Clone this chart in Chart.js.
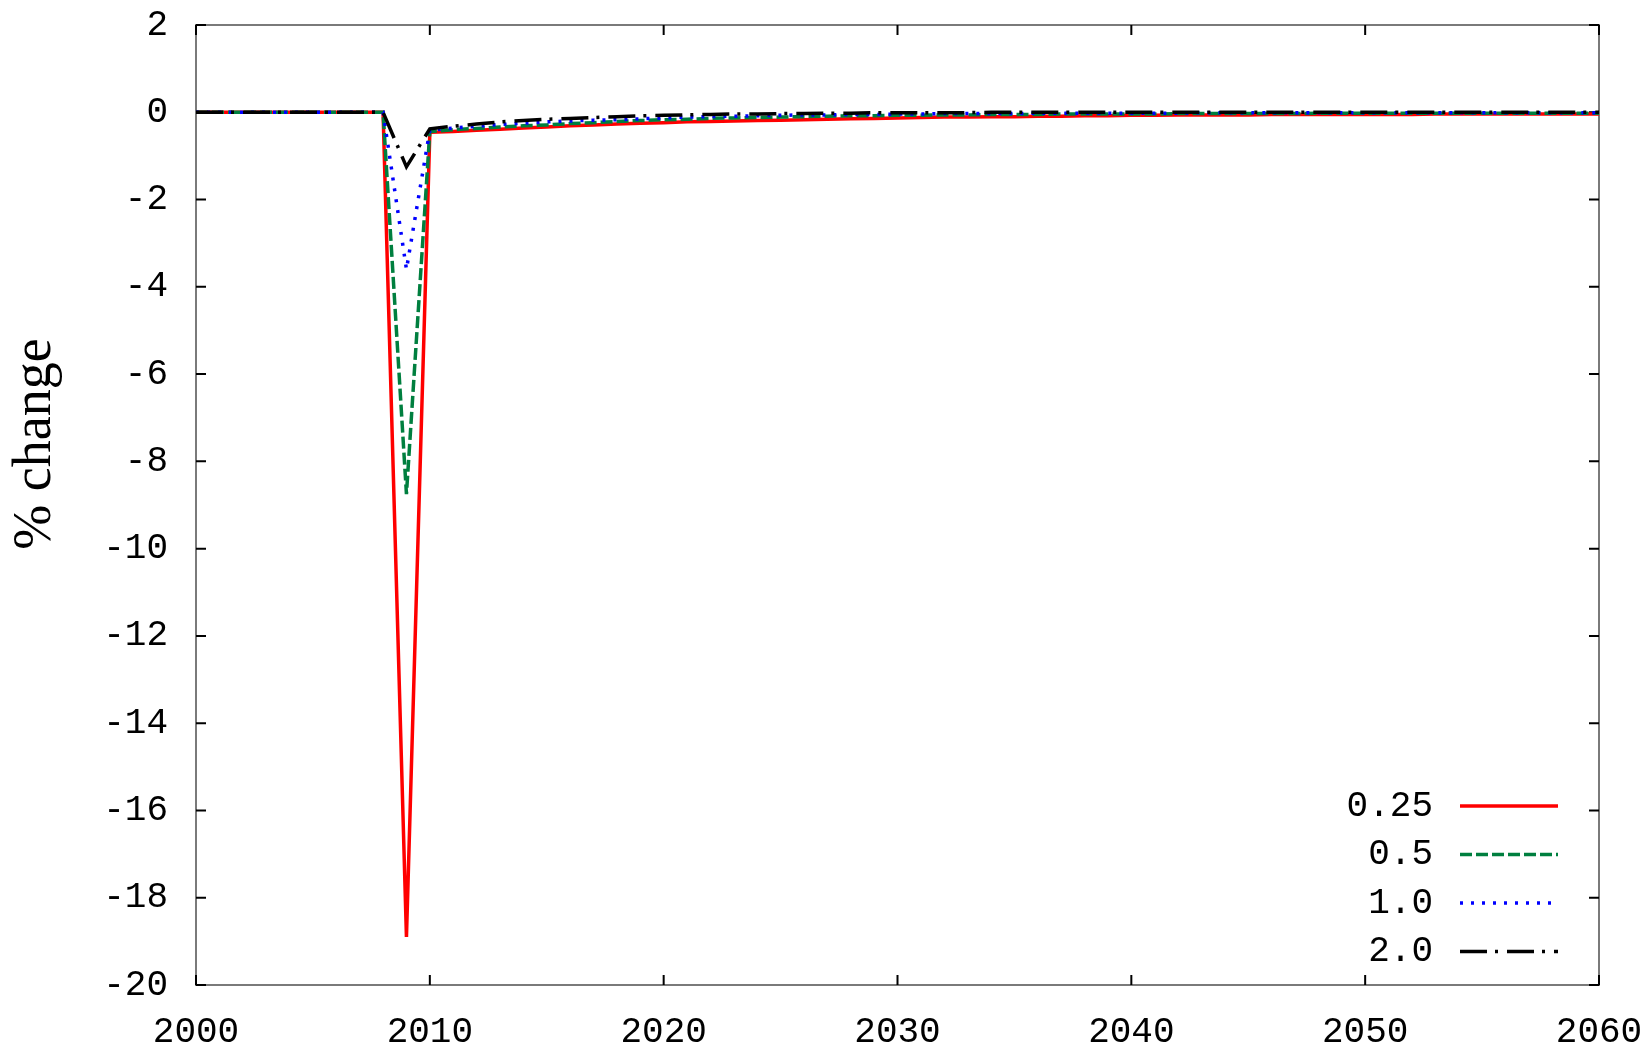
<!DOCTYPE html>
<html>
<head>
<meta charset="utf-8">
<script src="https://cdn.jsdelivr.net/npm/chart.js@4.4.1/dist/chart.umd.min.js"></script>
<style>
  html, body { margin: 0; padding: 0; background: #fff; }
  canvas { display: block; }
</style>
</head>
<body>
<canvas id="myChart" width="1652" height="1052"></canvas>
<script>
const years = [
  2000, 2001, 2002, 2003, 2004, 2005, 2006, 2007, 2008, 2009,
  2010, 2011, 2012, 2013, 2014, 2015, 2016, 2017, 2018, 2019,
  2020, 2021, 2022, 2023, 2024, 2025, 2026, 2027, 2028, 2029,
  2030, 2031, 2032, 2033, 2034, 2035, 2036, 2037, 2038, 2039,
  2040, 2041, 2042, 2043, 2044, 2045, 2046, 2047, 2048, 2049,
  2050, 2051, 2052, 2053, 2054, 2055, 2056, 2057, 2058, 2059, 2060,
];
const seriesLabels = ["0.25", "0.5", "1.0", "2.0"];

const s025 = [
  0, 0, 0, 0, 0, 0, 0, 0, 0, -18.9,
  -0.46, -0.44, -0.41, -0.39, -0.36, -0.34, -0.31, -0.29, -0.27, -0.25,
  -0.24, -0.22, -0.21, -0.2, -0.19, -0.18, -0.17, -0.16, -0.15, -0.14,
  -0.13, -0.12, -0.11, -0.11, -0.1, -0.1, -0.09, -0.09, -0.08, -0.08,
  -0.07, -0.07, -0.06, -0.06, -0.06, -0.06, -0.05, -0.05, -0.05, -0.05,
  -0.05, -0.05, -0.05, -0.04, -0.04, -0.04, -0.04, -0.04, -0.04, -0.04, -0.04,
];
const s05 = [
  0, 0, 0, 0, 0, 0, 0, 0, 0, -8.75,
  -0.44, -0.4, -0.37, -0.34, -0.31, -0.29, -0.26, -0.24, -0.21, -0.19,
  -0.17, -0.16, -0.14, -0.13, -0.12, -0.11, -0.1, -0.09, -0.08, -0.08,
  -0.07, -0.07, -0.06, -0.06, -0.05, -0.05, -0.05, -0.04, -0.04, -0.04,
  -0.04, -0.04, -0.03, -0.03, -0.03, -0.03, -0.03, -0.03, -0.02, -0.02,
  -0.02, -0.02, -0.02, -0.02, -0.02, -0.02, -0.02, -0.02, -0.02, -0.02, -0.02,
];
const s10 = [
  0, 0, 0, 0, 0, 0, 0, 0, 0, -3.6,
  -0.41, -0.36, -0.32, -0.28, -0.25, -0.22, -0.2, -0.18, -0.17, -0.15,
  -0.13, -0.11, -0.1, -0.09, -0.08, -0.07, -0.06, -0.06, -0.05, -0.05,
  -0.04, -0.04, -0.03, -0.03, -0.03, -0.03, -0.02, -0.02, -0.02, -0.02,
  -0.02, -0.02, -0.02, -0.01, -0.01, -0.01, -0.01, -0.01, -0.01, -0.01,
  -0.01, -0.01, -0.01, -0.01, -0.01, -0.01, -0.01, -0.01, -0.01, -0.01, -0.01,
];
const s20 = [
  0, 0, 0, 0, 0, 0, 0, 0, 0, -1.25,
  -0.38, -0.32, -0.27, -0.22, -0.19, -0.16, -0.14, -0.12, -0.1, -0.08,
  -0.07, -0.06, -0.05, -0.04, -0.04, -0.03, -0.03, -0.02, -0.02, -0.01,
  -0.01, -0.01, -0.01, -0.01, 0, 0, 0, 0, 0, 0,
  0, 0, 0, 0, 0, 0, 0, 0, 0, 0,
  0, 0, 0, 0, 0, 0, 0, 0, 0, 0, 0,
];

const xTicks = [2000, 2010, 2020, 2030, 2040, 2050, 2060];
const yTicks = [2, 0, -2, -4, -6, -8, -10, -12, -14, -16, -18, -20];

const monoFont = "'Liberation Mono', 'DejaVu Sans Mono', monospace";

const toPoints = (vals) => years.map((x, i) => ({ x: x, y: vals[i] }));

const chartData = {
  datasets: [
    { label: seriesLabels[0], data: toPoints(s025), borderColor: "#ff0000", borderDash: [], order: 4 },
    { label: seriesLabels[1], data: toPoints(s05), borderColor: "#007f3f", borderDash: [12, 4], order: 3 },
    { label: seriesLabels[2], data: toPoints(s10), borderColor: "#0000ff", borderDash: [3, 8], order: 2 },
    { label: seriesLabels[3], data: toPoints(s20), borderColor: "#000000", borderDash: [27, 8, 3, 9], order: 1 },
  ],
};
chartData.datasets.forEach((d) => {
  d.borderWidth = 3.5;
  d.pointRadius = 0;
  d.tension = 0;
  d.fill = false;
});

// no extra room for overflowing tick labels: keep the plot box fixed
const noPad = (scale) => {
  scale.paddingLeft = 0;
  scale.paddingRight = 0;
  scale.paddingTop = 0;
  scale.paddingBottom = 0;
};

// frame, inward ticks, legend and y title in gnuplot style
const decor = {
  id: "decor",
  beforeDatasetsDraw(chart) {
    const { ctx, chartArea: a, scales } = chart;
    ctx.save();
    ctx.strokeStyle = "#7a7a7a";
    ctx.lineWidth = 2;
    ctx.strokeRect(a.left, a.top, a.right - a.left, a.bottom - a.top);
    ctx.strokeStyle = "#000";
    ctx.lineWidth = 2;
    ctx.beginPath();
    yTicks.forEach((v) => {
      const y = scales.y.getPixelForValue(v);
      ctx.moveTo(a.left, y);
      ctx.lineTo(a.left + 10, y);
      ctx.moveTo(a.right, y);
      ctx.lineTo(a.right - 10, y);
    });
    xTicks.forEach((v) => {
      const x = scales.x.getPixelForValue(v);
      ctx.moveTo(x, a.bottom);
      ctx.lineTo(x, a.bottom - 10);
      ctx.moveTo(x, a.top);
      ctx.lineTo(x, a.top + 10);
    });
    ctx.stroke();
    ctx.restore();
  },
  afterDraw(chart) {
    const { ctx } = chart;
    ctx.save();
    // legend
    ctx.font = "36px " + monoFont;
    ctx.textAlign = "right";
    ctx.textBaseline = "middle";
    chart.data.datasets.forEach((d, i) => {
      const y = 806 + i * 48.5;
      ctx.fillStyle = "#000";
      ctx.fillText(d.label, 1433, y);
      ctx.strokeStyle = d.borderColor;
      ctx.lineWidth = 3.5;
      ctx.setLineDash(d.borderDash);
      ctx.beginPath();
      ctx.moveTo(1460, y);
      ctx.lineTo(1558, y);
      ctx.stroke();
    });
    ctx.setLineDash([]);
    // y axis title
    ctx.translate(36, 444);
    ctx.rotate(-Math.PI / 2);
    ctx.textAlign = "center";
    ctx.fillStyle = "#000";
    ctx.font = "54px 'Liberation Serif', 'DejaVu Serif', serif";
    ctx.fillText("% change", 0, 0);
    ctx.restore();
  },
};

const ctx = document.getElementById("myChart");
const chart = new Chart(ctx, {
  type: "line",
  data: chartData,
  options: {
    responsive: false,
    animation: false,
    layout: { padding: { left: 0, right: 53, top: 25, bottom: 0 } },
    plugins: {
      legend: { display: false },
      tooltip: { enabled: false },
    },
    scales: {
      x: {
        type: "linear",
        min: 2000,
        max: 2060,
        afterBuildTicks: (scale) => {
          scale.ticks = xTicks.map((v) => ({ value: v }));
        },
        afterFit: (scale) => {
          scale.height = 67;
          noPad(scale);
        },
        grid: { display: false, drawTicks: false },
        border: { display: false },
        ticks: {
          padding: 26,
          maxRotation: 0,
          autoSkip: false,
          color: "#000",
          font: { family: monoFont, size: 36 },
          callback: (v) => String(v),
        },
      },
      y: {
        min: -20,
        max: 2,
        afterBuildTicks: (scale) => {
          scale.ticks = yTicks.map((v) => ({ value: v }));
        },
        afterFit: (scale) => {
          scale.width = 196;
          noPad(scale);
        },
        grid: { display: false, drawTicks: false },
        border: { display: false },
        ticks: {
          padding: 28,
          autoSkip: false,
          color: "#000",
          font: { family: monoFont, size: 36 },
          callback: (v) => String(v),
        },
      },
    },
  },
  plugins: [decor],
});
</script>
</body>
</html>
